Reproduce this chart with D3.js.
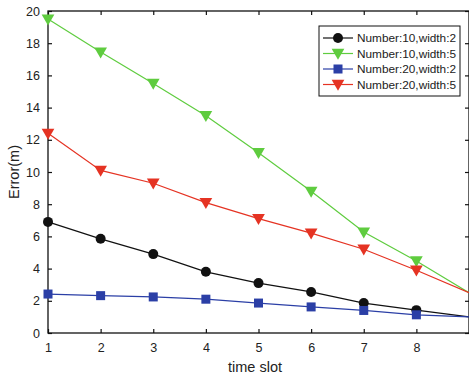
<!DOCTYPE html>
<html>
<head>
<meta charset="utf-8">
<script src="https://cdn.jsdelivr.net/npm/d3@7"></script>
<style>
body { margin: 0; background: #fff; }
text { font-family: "Liberation Sans", Arial, sans-serif; }
</style>
</head>
<body>
<div id="my_viz"></div>
<script>
const width = 469
const height = 375
const margin = {top: 11, right: 0, bottom: 42, left: 48}

// data
const slots = [1, 2, 3, 4, 5, 6, 7, 8, 9]
const n10w2 = [6.9, 5.85, 4.9, 3.8, 3.1, 2.55, 1.86, 1.42, 1.0]
const n10w5 = [19.5, 17.45, 15.5, 13.5, 11.2, 8.8, 6.27, 4.47, 2.5]
const n20w2 = [2.42, 2.32, 2.24, 2.1, 1.86, 1.62, 1.4, 1.13, 1.0]
const n20w5 = [12.4, 10.1, 9.3, 8.1, 7.1, 6.2, 5.2, 3.9, 2.5]
const xTicks = [1, 2, 3, 4, 5, 6, 7, 8]
const yTicks = [0, 2, 4, 6, 8, 10, 12, 14, 16, 18, 20]

const series = [
  {name: "Number:10,width:2", values: n10w2, color: "#111111", marker: "circle"},
  {name: "Number:10,width:5", values: n10w5, color: "#5fcc3f", marker: "tri"},
  {name: "Number:20,width:2", values: n20w2, color: "#2b3fa6", marker: "square"},
  {name: "Number:20,width:5", values: n20w5, color: "#e53323", marker: "tri"}
]

var svg = d3.select("#my_viz")
  .append("svg")
  .attr("width", width)
  .attr("height", height)

const x = d3.scaleLinear().domain([1, 9]).range([margin.left, 469])
const y = d3.scaleLinear().domain([0, 20]).range([height - margin.bottom, margin.top])

// box
svg.append("rect")
  .attr("x", x(1)).attr("y", y(20))
  .attr("width", x(9) - x(1)).attr("height", y(0) - y(20))
  .attr("fill", "none").attr("stroke", "#111").attr("stroke-width", 1.3)

// bottom axis
var gx = svg.append("g")
  .attr("transform", "translate(0," + y(0) + ")")
  .call(d3.axisBottom(x).tickValues(xTicks).tickSizeInner(-4).tickSizeOuter(0).tickPadding(10))
gx.select(".domain").remove()
// top ticks
svg.append("g")
  .attr("transform", "translate(0," + y(20) + ")")
  .call(d3.axisTop(x).tickValues(xTicks).tickSizeInner(-4).tickSizeOuter(0).tickFormat(""))
  .select(".domain").remove()

// left axis
var gy = svg.append("g")
  .attr("transform", "translate(" + x(1) + ",0)")
  .call(d3.axisLeft(y).tickValues(yTicks).tickSizeInner(-4).tickSizeOuter(0).tickPadding(8))
gy.select(".domain").remove()
svg.append("g")
  .attr("transform", "translate(" + x(9) + ",0)")
  .call(d3.axisRight(y).tickValues(yTicks).tickSizeInner(-4).tickSizeOuter(0).tickFormat(""))
  .select(".domain").remove()

svg.selectAll(".tick line").attr("stroke", "#111").attr("stroke-width", 1.2)
svg.selectAll(".tick text").style("font-size", "12.5px").attr("fill", "#222")

// axis labels
svg.append("text")
  .attr("x", 255).attr("y", 372)
  .attr("text-anchor", "middle")
  .style("font-size", "14.5px")
  .attr("fill", "#222")
  .text("time slot")
svg.append("text")
  .attr("transform", "rotate(-90)")
  .attr("x", -172).attr("y", 19)
  .attr("text-anchor", "middle")
  .style("font-size", "14.5px")
  .attr("fill", "#222")
  .text("Error(m)")

const triUp = d3.symbol().type(d3.symbolTriangle).size(70)

function drawMarker(g, s, cx, cy) {
  if (s.marker == "circle") {
    g.append("circle").attr("cx", cx).attr("cy", cy).attr("r", 5).attr("fill", s.color)
  } else if (s.marker == "square") {
    g.append("rect").attr("x", cx - 4.5).attr("y", cy - 4.5).attr("width", 9).attr("height", 9).attr("fill", s.color)
  } else {
    g.append("path").attr("d", triUp())
      .attr("transform", "translate(" + cx + "," + (cy - 1) + ") rotate(180)")
      .attr("fill", s.color)
  }
}

var line = d3.line()
  .x((d, i) => x(slots[i]))
  .y(d => y(d))

var plot = svg.append("g")
series.forEach(function(s) {
  plot.append("path")
    .attr("d", line(s.values))
    .attr("fill", "none")
    .attr("stroke", s.color)
    .attr("stroke-width", 1.2)
  var mk = plot.append("g")
  s.values.forEach(function(v, i) {
    if (slots[i] < 9) drawMarker(mk, s, x(slots[i]), y(v))
  })
})

// legend
var legend = svg.append("g").attr("transform", "translate(319,26)")
legend.append("rect")
  .attr("width", 141).attr("height", 70)
  .attr("fill", "#fff").attr("stroke", "#111").attr("stroke-width", 1)
series.forEach(function(s, i) {
  var ly = 12 + i * 15.5
  legend.append("line")
    .attr("x1", 4).attr("x2", 34).attr("y1", ly).attr("y2", ly)
    .attr("stroke", s.color).attr("stroke-width", 1.2)
  drawMarker(legend, s, 19, ly)
  legend.append("text")
    .attr("x", 38).attr("y", ly)
    .attr("dy", "0.35em")
    .style("font-size", "11.8px")
    .attr("fill", "#222")
    .text(s.name)
})
</script>
</body>
</html>
